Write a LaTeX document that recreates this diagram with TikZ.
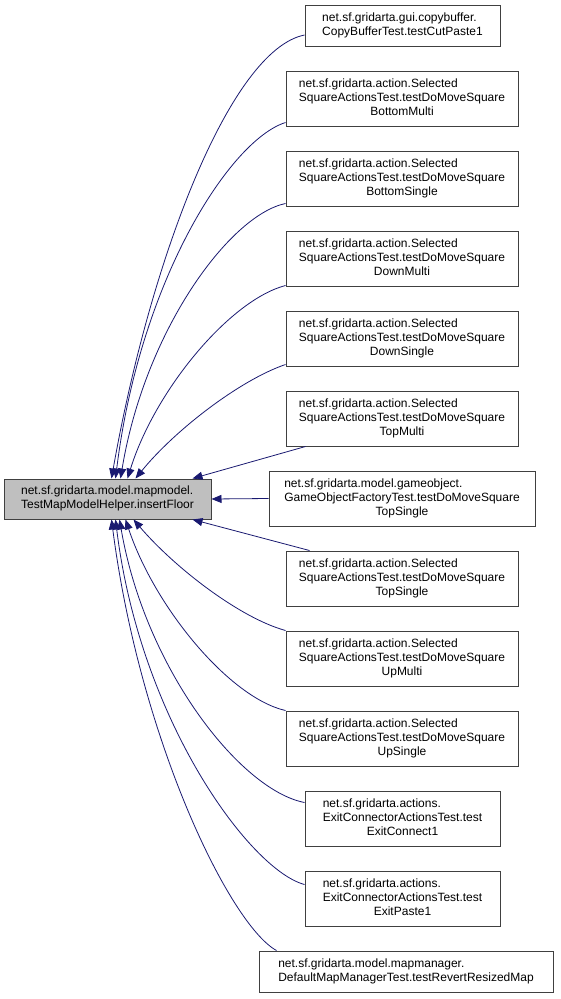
\documentclass[tikz,border=0pt]{standalone}
\usepackage{fontspec}
\setmainfont{Liberation Sans}
\usetikzlibrary{arrows.meta}
\definecolor{edgeblue}{HTML}{191970}
\definecolor{boxline}{HTML}{404040}
\definecolor{mainfill}{HTML}{BFBFBF}
\newcommand{\tlines}[2]{\begin{tabular}{@{}l@{}}#1\\\multicolumn{1}{@{}c@{}}{#2}\end{tabular}}
\begin{document}
\begin{tikzpicture}[x=1pt,y=-1pt,
  box/.style={draw=boxline, line width=1pt, fill=white, inner sep=0pt,
    font=\fontsize{12}{14}\selectfont},
  two/.style={box, minimum height=41pt},
  three/.style={box, minimum height=55pt},
  mainbox/.style={box, fill=mainfill, minimum width=207pt, minimum height=40pt},
  edge/.style={draw=edgeblue, line width=0.8pt,
    -{Triangle[length=10pt,width=8pt]}}]
\useasboundingbox (0,0) rectangle (560,999);
\node[mainbox] (l) at (107.5,499) {\tlines{net.sf.gridarta.model.mapmodel.}{TestMapModelHelper.insertFloor}};

\node[two, minimum width=195pt] (r1) at (402.5,26) {\tlines{net.sf.gridarta.gui.copybuffer.}{CopyBufferTest.testCutPaste1}};
\node[three, minimum width=232pt] (r2) at (402,98.5) {\tlines{net.sf.gridarta.action.Selected\\SquareActionsTest.testDoMoveSquare}{BottomMulti}};
\node[three, minimum width=232pt] (r3) at (402,178.5) {\tlines{net.sf.gridarta.action.Selected\\SquareActionsTest.testDoMoveSquare}{BottomSingle}};
\node[three, minimum width=232pt] (r4) at (402,258.5) {\tlines{net.sf.gridarta.action.Selected\\SquareActionsTest.testDoMoveSquare}{DownMulti}};
\node[three, minimum width=232pt] (r5) at (402,338.5) {\tlines{net.sf.gridarta.action.Selected\\SquareActionsTest.testDoMoveSquare}{DownSingle}};
\node[three, minimum width=232pt] (r6) at (402,418.5) {\tlines{net.sf.gridarta.action.Selected\\SquareActionsTest.testDoMoveSquare}{TopMulti}};
\node[three, minimum width=266pt] (r7) at (402,498.5) {\tlines{net.sf.gridarta.model.gameobject.\\GameObjectFactoryTest.testDoMoveSquare}{TopSingle}};
\node[three, minimum width=232pt] (r8) at (402,578.5) {\tlines{net.sf.gridarta.action.Selected\\SquareActionsTest.testDoMoveSquare}{TopSingle}};
\node[three, minimum width=232pt] (r9) at (402,658.5) {\tlines{net.sf.gridarta.action.Selected\\SquareActionsTest.testDoMoveSquare}{UpMulti}};
\node[three, minimum width=232pt] (r10) at (402,738.5) {\tlines{net.sf.gridarta.action.Selected\\SquareActionsTest.testDoMoveSquare}{UpSingle}};
\node[three, minimum width=195pt] (r11) at (402.5,818.5) {\tlines{net.sf.gridarta.actions.\\ExitConnectorActionsTest.test}{ExitConnect1}};
\node[three, minimum width=195pt] (r12) at (402.5,898.5) {\tlines{net.sf.gridarta.actions.\\ExitConnectorActionsTest.test}{ExitPaste1}};
\node[two, minimum width=294pt] (r13) at (406,971.5) {\tlines{net.sf.gridarta.model.mapmanager.}{DefaultMapManagerTest.testRevertResizedMap}};

\draw[edge] ([yshift=-9pt]r1.west) .. controls (230,50) and (150,260) .. ([xshift=4pt]l.north);
\draw[edge] ([yshift=4pt]r2.south west) .. controls (230,140) and (140,280) .. ([xshift=8pt]l.north);
\draw[edge] ([yshift=3pt]r3.south west) .. controls (230,215) and (145,330) .. ([xshift=13pt]l.north);
\draw[edge] ([yshift=1pt]r4.south west) .. controls (230,300) and (155,390) .. ([xshift=20pt]l.north);
\draw[edge] ([yshift=2pt]r5.south west) .. controls (240,380) and (175,430) .. ([xshift=28pt]l.north);
\draw[edge] ([xshift=20pt]r6.south west) -- ([xshift=85pt]l.north);
\draw[edge] (r7.west) -- (l.east);
\draw[edge] ([xshift=24pt]r8.north west) -- ([xshift=85pt]l.south);
\draw[edge] (r9.north west) .. controls (240,618) and (175,568) .. ([xshift=26pt]l.south);
\draw[edge] (r10.north west) .. controls (230,698) and (155,608) .. ([xshift=18pt]l.south);
\draw[edge] ([yshift=16pt]r11.west) .. controls (240,790) and (145,668) .. ([xshift=12pt]l.south);
\draw[edge] ([yshift=14pt]r12.west) .. controls (250,870) and (140,720) .. ([xshift=8pt]l.south);
\draw[edge] ([xshift=18pt]r13.north west) .. controls (230,925) and (140,740) .. ([xshift=4pt]l.south);
\end{tikzpicture}
\end{document}
